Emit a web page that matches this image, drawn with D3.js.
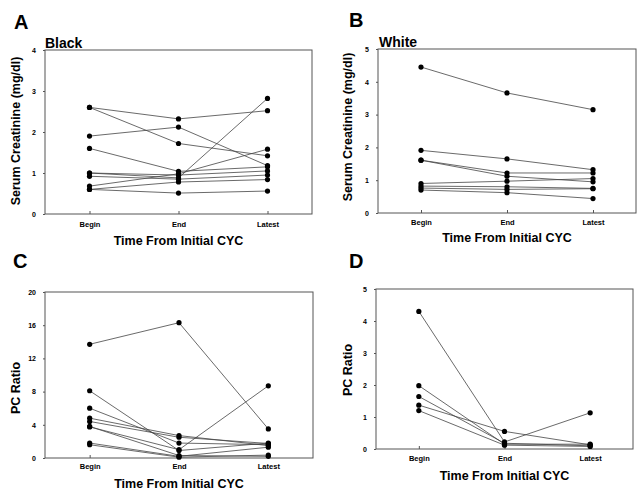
<!DOCTYPE html>
<html>
<head>
<meta charset="utf-8">
<script src="https://cdn.jsdelivr.net/npm/d3@7"></script>
<style>
  body { margin: 0; background: #fff; }
  svg { font-family: "Liberation Sans", Arial, sans-serif; }
  .tick text { font-weight: bold; }
</style>
</head>
<body>
<div id="chart"></div>
<script>
// time points on the x axis
const timePoints = ["Begin", "End", "Latest"];

// serum creatinine, black patients (Begin, End, Latest)
const blackCreat = [
  [2.6, 2.32, 2.52],
  [2.6, 1.72, 1.42],
  [1.9, 2.12, 1.18],
  [1.6, 1.04, 1.15],
  [1.0, 0.88, 2.82],
  [0.68, 0.98, 1.58],
  [1.0, 0.95, 1.05],
  [0.92, 0.85, 0.95],
  [0.6, 0.78, 0.84],
  [0.6, 0.51, 0.56],
];

// serum creatinine, white patients
const whiteCreat = [
  [4.45, 3.66, 3.15],
  [1.91, 1.65, 1.32],
  [1.61, 1.22, 1.22],
  [1.61, 1.12, 0.95],
  [0.9, 0.97, 1.05],
  [0.82, 0.8, 0.75],
  [0.76, 0.72, 0.74],
  [0.7, 0.62, 0.44],
];

// protein/creatinine ratio, black patients
const blackPC = [
  [13.7, 16.3, 3.5],
  [8.1, 0.9, 1.8],
  [6.0, 1.8, 1.6],
  [4.8, 2.7, 1.5],
  [4.4, 2.5, 1.75],
  [3.8, 0.3, 0.2],
  [3.75, 1.0, 8.7],
  [1.8, 0.2, 1.3],
  [1.6, 0.1, 0.35],
];

// protein/creatinine ratio, white patients
const whitePC = [
  [4.3, 0.22, 1.13],
  [1.98, 0.15, 0.15],
  [1.64, 0.18, 0.1],
  [1.37, 0.55, 0.13],
  [1.2, 0.12, 0.08],
];

const creatTicksA = [0, 1, 2, 3, 4];
const creatTicksB = [0, 1, 2, 3, 4, 5];
const pcTicksC = [0, 4, 8, 12, 16, 20];
const pcTicksD = [0, 1, 2, 3, 4, 5];

const xTitle = "Time From Initial CYC";

const svg = d3.select("#chart").append("svg")
  .attr("width", 637)
  .attr("height", 492);

const panels = [
  { letter: "A", sub: "Black", data: blackCreat, ticks: creatTicksA, yTitle: "Serum Creatinine (mg/dl)",
    box: { left: 45, right: 312, top: 50, bottom: 214 }, letterPos: [14, 29], subPos: [45, 48],
    yTitlePos: [20, 131], xTitleY: 245, tickLabelY: 227 },
  { letter: "B", sub: "White", data: whiteCreat, ticks: creatTicksB, yTitle: "Serum Creatinine (mg/dl)",
    box: { left: 378, right: 636, top: 49, bottom: 213 }, letterPos: [349, 27], subPos: [379, 47],
    yTitlePos: [352, 127], xTitleY: 242, tickLabelY: 225 },
  { letter: "C", sub: "", data: blackPC, ticks: pcTicksC, yTitle: "PC Ratio",
    box: { left: 45, right: 313, top: 292, bottom: 458 }, letterPos: [13, 268], subPos: null,
    yTitlePos: [20, 388], xTitleY: 488, tickLabelY: 469 },
  { letter: "D", sub: "", data: whitePC, ticks: pcTicksD, yTitle: "PC Ratio",
    box: { left: 376, right: 633, top: 289, bottom: 449 }, letterPos: [349, 268], subPos: null,
    yTitlePos: [352, 370], xTitleY: 480, tickLabelY: 461 },
];

panels.forEach((p) => {
  const b = p.box;
  const g = svg.append("g");

  const x = d3.scalePoint()
    .domain(timePoints)
    .range([b.left, b.right])
    .padding(0.5);

  const y = d3.scaleLinear()
    .domain([0, d3.max(p.ticks)])
    .range([b.bottom, b.top]);

  // frame
  g.append("rect")
    .attr("x", b.left).attr("y", b.top)
    .attr("width", b.right - b.left).attr("height", b.bottom - b.top)
    .attr("fill", "none").attr("stroke", "#555").attr("stroke-width", 1);

  // y axis
  const yAxis = g.append("g")
    .attr("transform", `translate(${b.left},0)`)
    .call(d3.axisLeft(y).tickValues(p.ticks).tickFormat(d3.format("d")).tickSize(2).tickPadding(7));
  yAxis.select(".domain").remove();
  yAxis.selectAll("line").attr("stroke", "#555");
  yAxis.selectAll("text").style("font-size", "7px").attr("fill", "#000");

  // x axis, ticks point inward
  const xAxis = g.append("g")
    .attr("transform", `translate(0,${b.bottom})`)
    .call(d3.axisBottom(x).tickSize(-3).tickPadding(0));
  xAxis.select(".domain").remove();
  xAxis.selectAll("line").attr("stroke", "#555");
  xAxis.selectAll("text")
    .attr("y", p.tickLabelY - b.bottom)
    .attr("dy", 0)
    .style("font-size", "7.5px").attr("fill", "#000");

  const line = d3.line()
    .x((d, i) => x(timePoints[i]))
    .y((d) => y(d));

  g.selectAll(".series")
    .data(p.data)
    .join("path")
    .attr("class", "series")
    .attr("d", line)
    .attr("fill", "none")
    .attr("stroke", "#444")
    .attr("stroke-width", 0.8);

  const pts = p.data.flatMap((row) => row.map((v, i) => ({ t: timePoints[i], v })));
  g.selectAll(".point")
    .data(pts)
    .join("circle")
    .attr("class", "point")
    .attr("cx", (d) => x(d.t))
    .attr("cy", (d) => y(d.v))
    .attr("r", 2.6)
    .attr("fill", "#000");

  // panel letter and group label
  g.append("text")
    .attr("x", p.letterPos[0]).attr("y", p.letterPos[1])
    .text(p.letter)
    .style("font-size", "20px").style("font-weight", "bold");
  if (p.subPos) {
    g.append("text")
      .attr("x", p.subPos[0]).attr("y", p.subPos[1])
      .text(p.sub)
      .style("font-size", "14px").style("font-weight", "bold");
  }

  // axis titles
  g.append("text")
    .attr("transform", `translate(${p.yTitlePos[0]},${p.yTitlePos[1]}) rotate(-90)`)
    .attr("text-anchor", "middle")
    .text(p.yTitle)
    .style("font-size", "12.5px").style("font-weight", "bold");

  g.append("text")
    .attr("x", x("End")).attr("y", p.xTitleY)
    .attr("text-anchor", "middle")
    .text(xTitle)
    .style("font-size", "12.5px").style("font-weight", "bold");
});
</script>
</body>
</html>
